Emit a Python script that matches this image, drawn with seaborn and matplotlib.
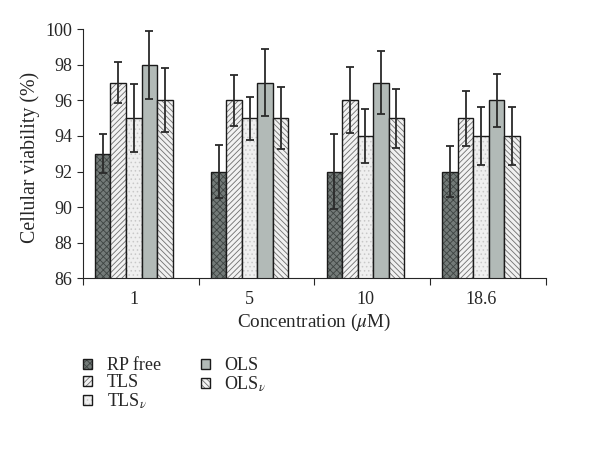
import matplotlib
matplotlib.use("Agg")
import matplotlib.pyplot as plt
import matplotlib.colors as mcolors
import seaborn as sns
import pandas as pd

# data
concentrations = ["1", "5", "10", "18.6"]
series = ["RP free", "TLS", "TLS$_\\nu$", "OLS", "OLS$_\\nu$"]
rp_free = [93, 92, 92, 92]
tls = [97, 96, 96, 95]
tls_v = [95, 95, 94, 94]
ols = [98, 97, 97, 96]
ols_v = [96, 95, 95, 94]
rp_free_err = [1.1, 1.5, 2.1, 1.45]
tls_err = [1.15, 1.45, 1.85, 1.55]
tls_v_err = [1.9, 1.2, 1.5, 1.65]
ols_err = [1.9, 1.9, 1.75, 1.5]
ols_v_err = [1.8, 1.75, 1.65, 1.65]

values = [rp_free, tls, tls_v, ols, ols_v]
errors = [rp_free_err, tls_err, tls_v_err, ols_err, ols_v_err]

rows = []
for name, vals in zip(series, values):
    for c, v in zip(concentrations, vals):
        rows.append({"Concentration": c, "Series": name, "Viability": v})
df = pd.DataFrame(rows)

sns.set_style("ticks")
plt.rcParams["font.family"] = ["Liberation Serif", "DejaVu Serif"]
plt.rcParams["mathtext.fontset"] = "stix"
plt.rcParams["hatch.linewidth"] = 0.6

faces = ["#737a78", "#f2f2f2", "#efefef", "#b2bab7", "#f0f0f0"]
hatches = ["xxxxx", "//////", "....", "", "\\\\\\\\\\\\"]
hatch_colors = ["#3e4442", "#6f6f6f", "#c8c8c8", "#b2bab7", "#6f6f6f"]

fig = plt.figure(figsize=(6, 4.71), dpi=100)
ax = fig.add_axes([0.138, 0.409, 0.772, 0.529])

sns.barplot(data=df, x="Concentration", y="Viability", hue="Series",
            order=concentrations, hue_order=series, errorbar=None,
            width=0.67, ax=ax, legend=False)

bar_containers = list(ax.containers)
for i, cont in enumerate(bar_containers):
    for j, p in enumerate(cont.patches):
        p.set_facecolor(faces[i])
        p.set_edgecolor("#1a1a1a")
        p.set_linewidth(1.0)
        p.set_hatch(hatches[i])
        p._hatch_color = mcolors.to_rgba(hatch_colors[i])
        cx = p.get_x() + p.get_width() / 2
        ax.errorbar(cx, p.get_height(), yerr=errors[i][j], color="#2a2a2a",
                    lw=1.3, capsize=3, capthick=1.3, zorder=5)

# the original's category ticks sit slightly right of the bar groups
shift = 0.06
ax.set_ylim(86, 100)
ax.set_yticks(range(86, 101, 2))
ax.set_xlim(-0.5 + shift, 3.5 + shift)
ax.set_xticks([k - 0.5 + shift for k in range(5)])
ax.set_xticklabels([])
ax.set_xticks(range(4), minor=True)
ax.set_xticklabels(concentrations, minor=True)
ax.tick_params(axis="x", which="minor", length=0, pad=9, labelsize=13)
ax.tick_params(axis="x", which="major", length=5, direction="out")
ax.tick_params(axis="y", labelsize=13, length=4)
ax.set_ylabel("Cellular viability (%)", fontsize=14.3, y=0.485)
ax.set_xlabel("Concentration ($\\mu$M)", fontsize=13.8, labelpad=3)
sns.despine(ax=ax)

handles = [c.patches[0] for c in bar_containers]
fig.legend(handles, series, ncol=2, loc="upper left",
           bbox_to_anchor=(0.112, 0.276), frameon=False, fontsize=13,
           handlelength=0.5, handleheight=0.5, handletextpad=0.8,
           labelspacing=0.0, columnspacing=2.2)

fig.savefig("out.png", dpi=100)
